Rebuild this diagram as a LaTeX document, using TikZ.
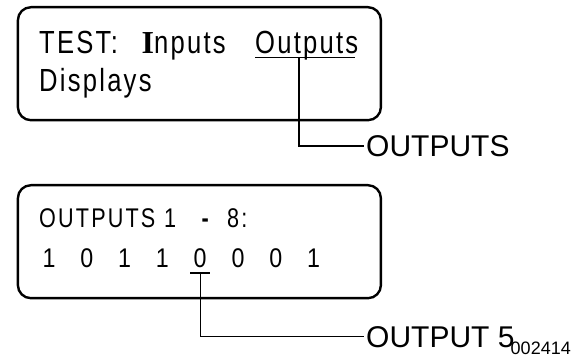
\documentclass[tikz,border=0pt]{standalone}
\usepackage{fontspec}
\setmainfont{Liberation Sans}
\newfontfamily\lcdbig[FakeStretch=0.8,LetterSpace=7]{Liberation Sans}
\newfontfamily\lcdsmall[FakeStretch=0.8,LetterSpace=8]{Liberation Sans}
\newfontfamily\lcddigit[FakeStretch=0.86]{Liberation Sans}
\newfontfamily\cursorfont{Liberation Serif}
\usetikzlibrary{positioning}

\begin{document}
\begin{tikzpicture}[
    x=1pt, y=-1pt,
    screen/.style={
      draw=black, line width=2.4pt, rounded corners=13pt,
      minimum width=363pt, minimum height=113pt, anchor=north west
    },
    lcdtext/.style={inner sep=0pt, anchor=base west, font=\lcdbig\fontsize{32}{38}\selectfont},
    lcdline/.style={inner sep=0pt, anchor=base west, font=\lcdsmall\fontsize{27}{30}\selectfont},
    bit/.style={inner sep=0pt, anchor=base, font=\lcddigit\fontsize{27}{30}\selectfont},
    callout/.style={inner xsep=2pt, inner ysep=0pt, anchor=west, font=\fontsize{30}{36}\selectfont},
    drawno/.style={inner sep=0pt, anchor=base east, font=\fontsize{18}{22}\selectfont},
    leader/.style={line width=1.3pt}
  ]
  \useasboundingbox (0,0) rectangle (587,358);

  \node[screen] (menu)   at (16.7,6)   {};
  \node[screen] (outscr) at (16.7,184) {};

  \node[lcdtext] (testlbl)  at (39,53.3)    {TEST:};
  \node[lcdtext] (inputs)   at (141.5,53.3) {{\cursorfont\bfseries I}nputs};
  \node[lcdtext] (outputs)  at (255,53.3)   {Outputs};
  \node[lcdtext] (displays) at (39,91.7)    {Displays};

  \node[lcdline] (outhead)  at (39,227.5)    {OUTPUTS};
  \node[lcdline] (headfrom) at (164,227.5)   {1};
  \node[lcdline] (headdash) at (201.5,227.5) {\bfseries -};
  \node[lcdline] (headto)   at (227,227.5)   {8:};
  \foreach \b [count=\i] in {1,0,1,1,0,0,0,1}
    \node[bit] (bit\i) at ({49+37.8*(\i-1)},268) {\b};

  \node[callout] (outlbl)  at (364,146)   {OUTPUTS};
  \node[callout] (bit5lbl) at (364,336.7) {OUTPUT 5};
  \node[drawno] (drawno) at (571,355) {002414};

  \coordinate (selout) at (299,57.3);
  \coordinate (selbit) at ([yshift=-5pt]bit5.base);

  \draw[leader] ([yshift=-4pt]outputs.base west) -- ([xshift=-3pt,yshift=-4pt]outputs.base east);
  \draw[leader] (selout) |- (outlbl);
  \draw[leader] ([xshift=-10pt]selbit) -- ([xshift=10pt]selbit);
  \draw[leader] (selbit) |- (bit5lbl);
\end{tikzpicture}
\end{document}
